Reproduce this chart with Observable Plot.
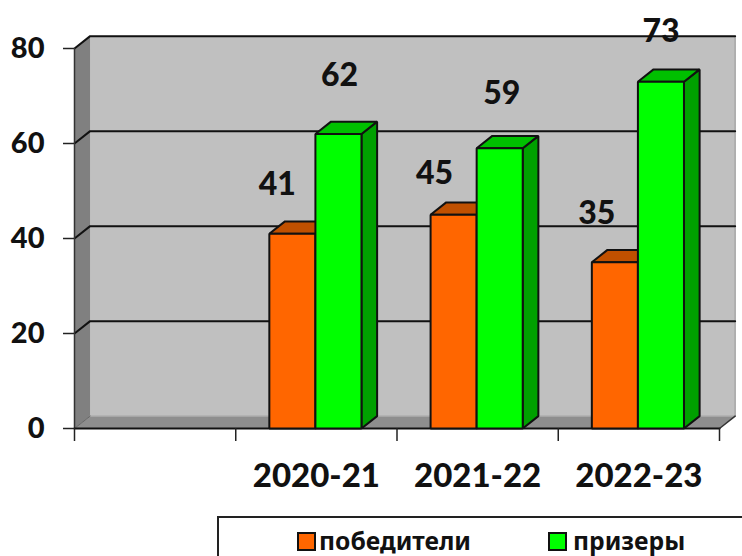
<!DOCTYPE html>
<html><head><meta charset="utf-8">
<script src="https://cdn.jsdelivr.net/npm/d3@7"></script>
<script src="https://cdn.jsdelivr.net/npm/@observablehq/plot@0.6"></script>
<style>
html,body{margin:0;padding:0;background:#fff;overflow:hidden;width:742px;height:556px}
#chart svg{display:block}
#legend{position:absolute;left:217px;top:516px;width:530px;height:60px;border:2px solid #222;box-sizing:border-box;font:700 24.7px "Noto Sans",sans-serif;color:#111}
#legend span{position:absolute;top:7px;line-height:32px;white-space:nowrap}
#legend i{position:absolute;top:14px;width:15px;height:15px;border:2px solid #111}
</style></head><body>
<div id="chart"></div>
<div id="legend"></div>
<script>
const categories = ["", "2020-21", "2021-22", "2022-23"];
const winners = [null, 41, 45, 35];
const prizewinners = [null, 62, 59, 73];
const seriesNames = ["победители", "призеры"];
const yTicks = [0, 20, 40, 60, 80];

// Oblique depth of the 3D box, in data units of each axis.
const depthX = 0.097, depthY = 2.6;
const barW = 0.2857;
const barStart = (1 - 2 * barW) / 2 - 0.006;
const yMax = 80, xMax = categories.length;

const polys = [];
function poly(pts, fill, stroke) {
  const id = polys.length;
  polys.push(pts.map(([x, y]) => ({x, y, id, fill, stroke})));
}
// walls
poly([[depthX,depthY],[xMax+depthX,depthY],[xMax+depthX,yMax+depthY],[depthX,yMax+depthY]], "#c0c0c0", "none");
poly([[0,0],[xMax,0],[xMax+depthX,depthY],[depthX,depthY]], "#8e8e8e", "none");
poly([[0,0],[depthX,depthY],[depthX,yMax+depthY],[0,yMax]], "#808080", "none");
const wallPolys = polys.splice(0).flat();

const palette = [
  {front:"#ff6600", top:"#c05000", side:"#a84600"},
  {front:"#00ff00", top:"#00c000", side:"#00a000"}
];
[winners, prizewinners].forEach((vals, s) => {
  vals.forEach((v, i) => {
    if (v == null) return;
    const a = i + barStart + s * barW, b = a + barW, c = palette[s];
    poly([[b,0],[b+depthX,depthY],[b+depthX,v+depthY],[b,v]], c.side, "#111");
    poly([[a,v],[b,v],[b+depthX,v+depthY],[a+depthX,v+depthY]], c.top, "#111");
    poly([[a,0],[b,0],[b,v],[a,v]], c.front, "#111");
  });
});
const barPolys = polys.flat();

const gridLines = yTicks.filter(t => t > 0).map(t => [[0,t],[depthX,t+depthY],[xMax+depthX,t+depthY]]
  .map(([x,y]) => ({x, y, t}))).flat();

// hand placement of each value label (pixels)
const labelShift = [
  {dx:-15,dy:-49},{dx:1,dy:-58},
  {dx:-19,dy:-41},{dx:2,dy:-55},
  {dx:-18,dy:-49},{dx:0,dy:-50}
];
const labels = [];
[1,2,3].forEach(i => {
  labels.push({x:i+barStart+barW/2, y:winners[i], t:winners[i]});
  labels.push({x:i+barStart+barW*1.5, y:prizewinners[i], t:prizewinners[i]});
});
const font = "Lato, 'Noto Sans', sans-serif";

const plot = Plot.plot({
  width: 742, height: 516,
  marginLeft: 74, marginRight: 23, marginTop: 48, marginBottom: 88,
  style: {background: "#fff", overflow: "visible"},
  x: {type: "linear", domain: [0, xMax], range: [74, 719]},
  y: {type: "linear", domain: [0, yMax], range: [428, 48]},
  marks: [
    Plot.line(wallPolys, {x:"x", y:"y", z:"id", fill:"fill", stroke:"none", curve:"linear-closed"}),
    Plot.line([[depthX,depthY],[xMax+depthX,depthY],[xMax+depthX,yMax+depthY]].map(([x,y])=>({x,y})),
      {x:"x", y:"y", stroke:"#a6a6a6", strokeWidth:1.5}),
    Plot.line(gridLines, {x:"x", y:"y", z:"t", stroke:"#111", strokeWidth:2}),
    Plot.line([{x:0,y:0},{x:0,y:yMax}], {x:"x", y:"y", stroke:"#333", strokeWidth:1.5}),
    Plot.line([{x:0,y:0},{x:depthX,y:depthY}], {x:"x", y:"y", stroke:"#666", strokeWidth:1}),
    Plot.line([{x:xMax,y:0},{x:xMax+depthX,y:depthY}], {x:"x", y:"y", stroke:"#333", strokeWidth:1.5}),
    Plot.line([{x:0,y:0},{x:xMax,y:0}], {x:"x", y:"y", stroke:"#111", strokeWidth:2}),
    Plot.line(barPolys, {x:"x", y:"y", z:"id", fill:"fill", stroke:"stroke", strokeWidth:2, strokeLinejoin:"miter", curve:"linear-closed"}),
    Plot.axisY({ticks: yTicks, tickSize: 11, tickPadding: 19, label: null, fontSize: 29, fontWeight: 900, fontFamily: font, fill:"#111", stroke:"#222", strokeWidth:1.5}),
    Plot.axisX({ticks: d3.range(xMax + 1), tickSize: 13, tickFormat: null, label: null, text: null, stroke:"#222", strokeWidth:1.5}),
    Plot.axisX({ticks: categories.map((c,i)=>i+0.5).slice(1), tickSize: 0, tickPadding: 35, tickFormat: d => categories[Math.floor(d)], label: null, fontSize: 33, fontWeight: 900, fontFamily: font, fill:"#111"}),
    ...labels.map((d,i) => Plot.text([d], {x:"x", y:"y", text:"t", dx:labelShift[i].dx, dy:labelShift[i].dy, fontSize:32, fontWeight:900, fontFamily:font, fill:"#111", lineAnchor:"middle"}))
  ]
});
document.getElementById("chart").append(plot);

const legend = document.getElementById("legend");
[[seriesNames[0], palette[0].front, 78, 100], [seriesNames[1], palette[1].front, 329, 354]].forEach(([n,c,sx,tx]) => {
  const i = document.createElement("i"); i.style.left = sx+"px"; i.style.background = c; legend.append(i);
  const s = document.createElement("span"); s.style.left = tx+"px"; s.textContent = n; legend.append(s);
});
</script>
</body></html>
